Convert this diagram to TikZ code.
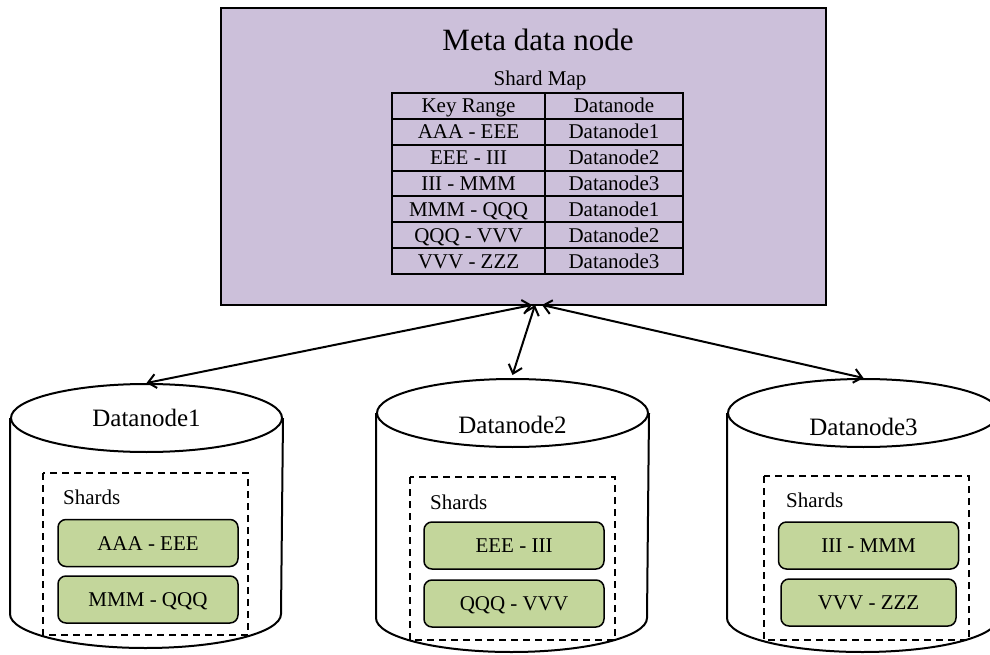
\documentclass[tikz,border=0pt]{standalone}
\usepackage{fontspec}
\setmainfont{Liberation Serif}
\usetikzlibrary{shapes.geometric,arrows.meta}
\definecolor{metafill}{HTML}{CCC0DA}
\definecolor{shardfill}{HTML}{C3D69B}
\tikzset{
  cell/.style={draw,line width=2pt,inner sep=0pt,minimum height=25.86pt,text height=14pt,text depth=0pt,font=\fontsize{21}{24}\selectfont},
  dbtop/.style={ellipse,draw,line width=2pt,fill=white,minimum width=271pt,minimum height=68pt,inner sep=0pt,font=\fontsize{25}{30}\selectfont},
  shardbox/.style={draw,line width=1.5pt,dash pattern=on 7pt off 5pt},
  shardlabel/.style={anchor=west,inner sep=0pt,font=\fontsize{21}{24}\selectfont},
  shard/.style={draw,rounded corners=8pt,fill=shardfill,line width=1.5pt,minimum width=180pt,minimum height=47pt,inner sep=0pt,text height=14pt,text depth=0pt,font=\fontsize{21}{24}\selectfont},
  link/.style={line width=2pt,>={Straight Barb[length=8pt,width=14pt]},<->}
}
\begin{document}
\begin{tikzpicture}[x=1pt,y=1pt]
\useasboundingbox (0,0) rectangle (990,654);
\clip (0,0) rectangle (990,654);
% meta data node with the shard map
\node[draw,line width=2pt,fill=metafill,minimum width=605pt,minimum height=297pt] (meta) at (523.5,497.5) {};
\node[font=\fontsize{31}{36}\selectfont] (title) at (538,614) {Meta data node};
\node[font=\fontsize{21}{24}\selectfont] (mapname) at (540,574) {Shard Map};
\foreach \r/\d [count=\i from 0] in {Key Range/Datanode,AAA - EEE/Datanode1,EEE - III/Datanode2,III - MMM/Datanode3,MMM - QQQ/Datanode1,QQQ - VVV/Datanode2,VVV - ZZZ/Datanode3} {
  \node[cell,minimum width=153pt] (range\i) at (468.5,548.07-25.86*\i) {\r};
  \node[cell,minimum width=138pt] (owner\i) at (614,548.07-25.86*\i) {\d};
}
% datanodes
\node[dbtop] (dn1) at (146.5,236) {Datanode1};
\draw[line width=2pt] (dn1.west) -- ++(0,-196) arc[start angle=180,end angle=360,x radius=135.5,y radius=34] -- (dn1.east);
\node[dbtop,text height=40pt,text depth=0pt] (dn2) at (512.5,241) {Datanode2};
\draw[line width=2pt] (dn2.west) -- ++(0,-205) arc[start angle=180,end angle=360,x radius=135.5,y radius=34] -- (dn2.east);
\node[dbtop,text height=45pt,text depth=0pt] (dn3) at (863.5,241) {Datanode3};
\draw[line width=2pt] (dn3.west) -- ++(0,-205) arc[start angle=180,end angle=360,x radius=135.5,y radius=34] -- (dn3.east);
% shards
\draw[shardbox] (43,181) rectangle (248,19);
\node[shardlabel] (shards1) at (63,157) {Shards};
\node[shard] (s1a) at (148,111) {AAA - EEE};
\node[shard] (s1b) at (148,54.5) {MMM - QQQ};
\draw[shardbox] (410,177) rectangle (615,14);
\node[shardlabel] (shards2) at (430,152) {Shards};
\node[shard] (s2a) at (514,108.5) {EEE - III};
\node[shard] (s2b) at (514,50.5) {QQQ - VVV};
\draw[shardbox] (764,178) rectangle (969,14);
\node[shardlabel] (shards3) at (786,154) {Shards};
\node[shard] (s3a) at (868.5,108.5) {III - MMM};
\node[shard,minimum width=175pt] (s3b) at (868.5,51.5) {VVV - ZZZ};
% links
\coordinate (hub) at (535,349);
\draw[link] ([xshift=-3pt]hub) -- (dn1.north);
\draw[link] (hub) -- ([yshift=3pt]dn2.north);
\draw[link] ([xshift=7pt]hub) -- (dn3.north);
\end{tikzpicture}
\end{document}
